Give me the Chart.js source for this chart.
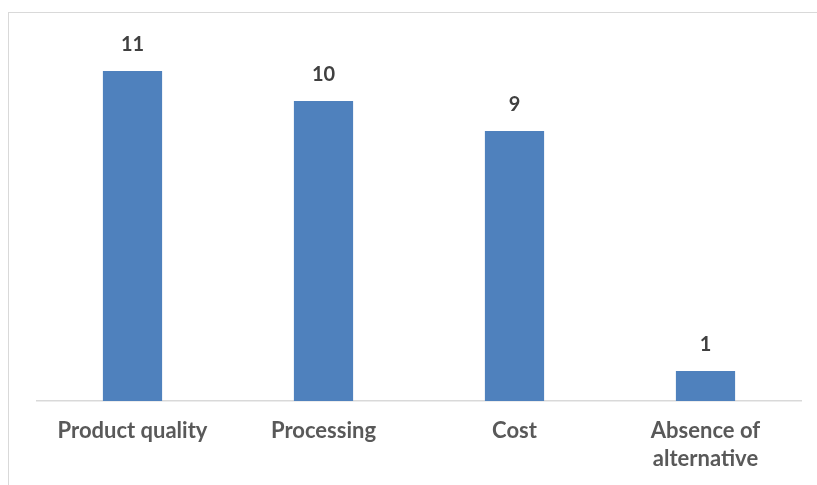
<!DOCTYPE html>
<html>
<head>
<meta charset="utf-8">
<script src="https://cdn.jsdelivr.net/npm/chart.js@4/dist/chart.umd.min.js"></script>
<style>
  html, body { margin: 0; padding: 0; background: #fff; }
  #wrap { position: relative; width: 817px; height: 485px; }
  #frame { position: absolute; left: 8px; top: 12px; right: -5px; bottom: -5px;
           border-left: 1.5px solid #d9d9d9; border-top: 1.5px solid #d9d9d9; }
  canvas { position: absolute; left: 0; top: 0; }
</style>
</head>
<body>
<div id="wrap">
  <div id="frame"></div>
  <canvas id="chart" width="817" height="485"></canvas>
</div>
<script>
const categories = ["Product quality", "Processing", "Cost", ["Absence of", "alternative"]];
const counts = [11, 10, 9, 1];

// value labels above bars
const valueLabels = {
  id: "valueLabels",
  afterDatasetsDraw(chart) {
    const ctx = chart.ctx;
    const meta = chart.getDatasetMeta(0);
    ctx.save();
    ctx.font = "bold 20px Lato, 'Open Sans', sans-serif";
    ctx.fillStyle = "#404040";
    ctx.textAlign = "center";
    ctx.textBaseline = "middle";
    meta.data.forEach((bar, i) => {
      ctx.fillText(String(counts[i]), bar.x, bar.y - 26);
    });
    ctx.restore();
  }
};

new Chart(document.getElementById("chart"), {
  type: "bar",
  data: {
    labels: categories,
    datasets: [{
      data: counts,
      backgroundColor: "#4f81bd",
      borderWidth: 0,
      categoryPercentage: 1,
      barPercentage: 0.31
    }]
  },
  options: {
    responsive: false,
    animation: false,
    layout: { padding: { left: 37, right: 16, top: 41, bottom: 0 } },
    plugins: { legend: { display: false }, tooltip: { enabled: false } },
    scales: {
      x: {
        grid: { display: false, drawTicks: false },
        border: { display: true, color: "#d9d9d9", width: 1.5 },
        ticks: {
          color: "#595959",
          font: { family: "Lato, 'Open Sans', sans-serif", size: 22, weight: "bold", lineHeight: 1.27 },
          padding: 16,
          maxRotation: 0,
          autoSkip: false
        },
        afterFit(scale) { scale.height = 84; }
      },
      y: {
        display: false,
        min: 0,
        max: 12
      }
    }
  },
  plugins: [valueLabels]
});
</script>
</body>
</html>
